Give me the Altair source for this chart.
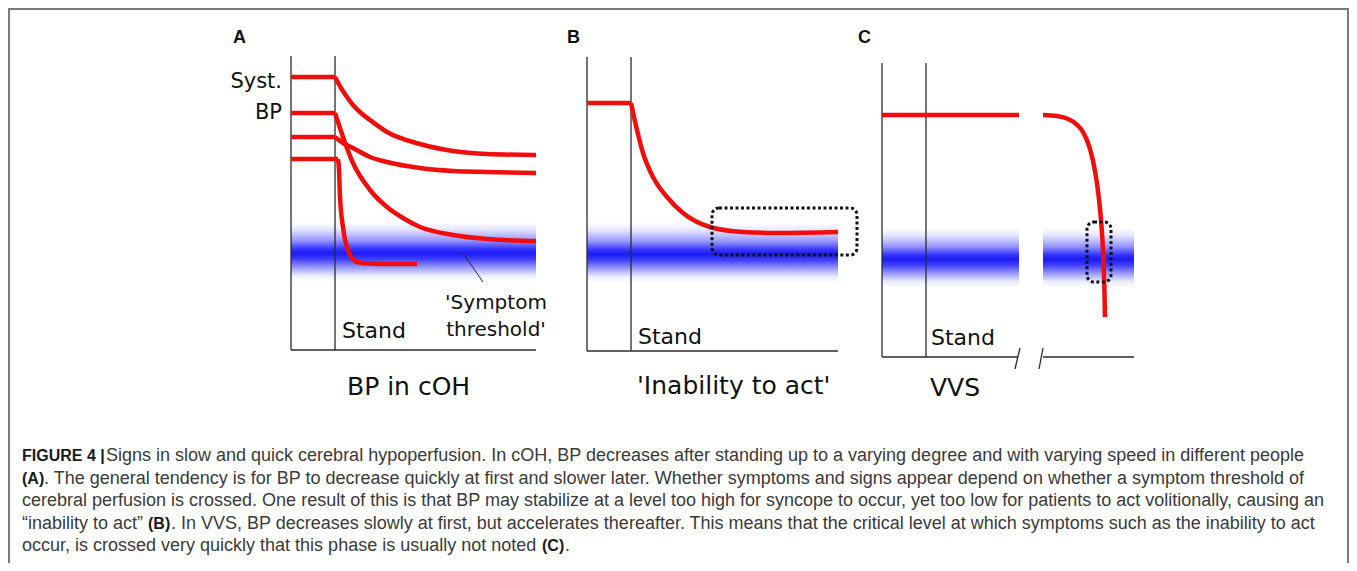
import altair as alt
import pandas as pd

# ---------------- data (arbitrary units: time after start, systolic BP) ----------------
# Panel A: BP in cOH – four people (baseline before standing, then course after standing)
A_BASE = [273, 237, 213, 191]
A_BASE_END = [44, 44, 44, 47]
A_T1 = [44, 50, 56, 62, 70, 79, 96, 129, 162, 196, 245]
A_BP1 = [273, 262, 253, 245, 237, 230, 218, 206, 199, 196, 195]
A_T2 = [44, 48, 52, 62, 79, 96, 112, 129, 162, 196, 245]
A_BP2 = [237, 225, 213, 187, 160, 143, 132, 123, 115, 111, 109]
A_T3 = [44, 52, 62, 79, 96, 129, 162, 196, 245]
A_BP3 = [213, 207, 202, 193, 188, 182, 179, 178, 177]
A_T4 = [47, 48, 49, 52, 57, 66, 79, 96, 126]
A_BP4 = [191, 180, 153, 123, 100, 88, 86.5, 86, 86]

# Panel B: 'Inability to act'
B_BASE = 248
B_T = [44, 50, 56, 66, 80, 96, 123, 156, 190, 251]
B_BP = [248, 221, 198, 174, 154, 138, 124, 119, 118, 119]

# Panel C: VVS (time axis broken)
C_T1 = [0, 137]
C_BP1 = [242, 242]
C_T2 = [161, 175, 185, 193, 199, 204, 208, 211, 214, 216.5, 218.5, 220, 221.3, 222.3, 223]
C_BP2 = [242, 241, 238.5, 234, 228, 219, 208, 196, 180, 162, 143, 124, 100, 72, 40]

STAND_T = 44
Y_TOP = 294
X_END = {"A": 245, "B": 251, "C": 252}
THRESH = {"A": 98, "B": 98, "C": 99}        # symptom threshold (centre of band)
THRESH_HALF = 30
BOX_B = [125, 270, 96, 143]                 # t0, t1, bp0, bp1
BOX_C = [205, 229, 75, 135]
C_GAP = [137, 161]                          # break of the time axis

CAPTION = [
    [("FIGURE 4 |", "bold"), ("Signs in slow and quick cerebral hypoperfusion. In cOH, BP decreases after standing up to a varying degree and with varying speed in different people", "normal")],
    [("(A)", "bold"), (". The general tendency is for BP to decrease quickly at first and slower later. Whether symptoms and signs appear depend on whether a symptom threshold of", "normal")],
    [("cerebral perfusion is crossed. One result of this is that BP may stabilize at a level too high for syncope to occur, yet too low for patients to act volitionally, causing an", "normal")],
    [("\u201cinability to act\u201d ", "normal"), ("(B)", "bold"), (". In VVS, BP decreases slowly at first, but accelerates thereafter. This means that the critical level at which symptoms such as the inability to act", "normal")],
    [("occur, is crossed very quickly that this phase is usually not noted ", "normal"), ("(C)", "bold"), (".", "normal")],
]
# left edges (px) of caption segments
CAPTION_X = [[14, 98], [14, 36], [14], [14, 140, 163], [14, 534, 557]]

# ---------------- styling / layout ----------------
RED = "#f20d0d"
INK = "#2b2b2b"
DIA_FONT = "DejaVu Sans"
CAP_FONT = "Liberation Sans"
CAP_BOLD_FONT = "Liberation Sans"
W, H = 1341, 555

PANELS = {
    "A": dict(xr=[283, 528], yr=[342, 48]),
    "B": dict(xr=[579, 830], yr=[343, 49]),
    "C": dict(xr=[874, 1126], yr=[349, 55]),
}


def X(p, field="t"):
    return alt.X(f"{field}:Q", axis=None,
                 scale=alt.Scale(domain=[0, X_END[p]], range=PANELS[p]["xr"], nice=False, zero=False))


def Y(p, field="bp"):
    return alt.Y(f"{field}:Q", axis=None,
                 scale=alt.Scale(domain=[0, Y_TOP], range=PANELS[p]["yr"], nice=False, zero=False))


def X2(field="t2"):
    return alt.X2(f"{field}:Q")


def Y2(field="bp2"):
    return alt.Y2(f"{field}:Q")


band_grad = alt.LinearGradient(
    gradient="linear", x1=0, x2=0, y1=0, y2=1,
    stops=[
        alt.GradientStop(color="#ffffff", offset=0.0),
        alt.GradientStop(color="#e6e6ff", offset=0.12),
        alt.GradientStop(color="#9a9aff", offset=0.3),
        alt.GradientStop(color="#3434ff", offset=0.45),
        alt.GradientStop(color="#1a1af2", offset=0.52),
        alt.GradientStop(color="#4040ff", offset=0.62),
        alt.GradientStop(color="#a8a8ff", offset=0.78),
        alt.GradientStop(color="#eeeeff", offset=0.9),
        alt.GradientStop(color="#ffffff", offset=1.0),
    ],
)

layers = []


def band(p, segments):
    c = THRESH[p]
    df = pd.DataFrame({"t": [s[0] for s in segments], "t2": [s[1] for s in segments],
                       "bp": [c - THRESH_HALF] * len(segments), "bp2": [c + THRESH_HALF] * len(segments)})
    return alt.Chart(df).mark_rect(color=band_grad).encode(x=X(p), x2=X2(), y=Y(p), y2=Y2())


def rules(p, rows, width=1.3, color=INK):
    df = pd.DataFrame(rows, columns=["t", "bp", "t2", "bp2"])
    return alt.Chart(df).mark_rule(color=color, strokeWidth=width).encode(x=X(p), y=Y(p), x2=X2(), y2=Y2())


def flats(p, rows):
    # baseline BP before standing: (t0, t1, bp)
    df = pd.DataFrame({"t": [r[0] for r in rows], "t2": [r[1] for r in rows],
                       "bp": [r[2] for r in rows], "bp2": [r[2] for r in rows]})
    return alt.Chart(df).mark_rule(color=RED, strokeWidth=4.5, strokeCap="butt").encode(
        x=X(p), y=Y(p), x2=X2(), y2=Y2())


def curves(p, series):
    frames = []
    for i, (ts, bps) in enumerate(series):
        frames.append(pd.DataFrame({"t": ts, "bp": bps, "s": f"{p}{i}", "o": range(len(ts))}))
    df = pd.concat(frames, ignore_index=True)
    return alt.Chart(df).mark_line(color=RED, strokeWidth=4.5, interpolate="monotone", strokeCap="butt",
                                   strokeJoin="round").encode(x=X(p), y=Y(p), detail="s:N", order="o:Q")


def box(p, b):
    df = pd.DataFrame({"t": [b[0]], "t2": [b[1]], "bp": [b[2]], "bp2": [b[3]]})
    return alt.Chart(df).mark_rect(fillOpacity=0, stroke="#111111", strokeWidth=3, strokeDash=[3, 2.5],
                                   cornerRadius=7).encode(x=X(p), x2=X2(), y=Y(p), y2=Y2())


def ptxt(p, s, t, bp, size, align="left", dx=0, baseline="middle"):
    df = pd.DataFrame({"t": [t], "bp": [bp], "s": [s]})
    return alt.Chart(df).mark_text(align=align, baseline=baseline, fontSize=size, font=DIA_FONT,
                                   color="#111111", dx=dx).encode(x=X(p), y=Y(p), text="s:N")


# ---- Panel A ----
layers.append(band("A", [(0, X_END["A"])]))
layers.append(rules("A", [(0, 0, 0, Y_TOP), (0, 0, X_END["A"], 0), (STAND_T, 0, STAND_T, Y_TOP)]))
layers.append(rules("A", [(172, 97, 192, 68)], width=1.0))
layers.append(flats("A", [(0, e, b) for b, e in zip(A_BASE, A_BASE_END)]))
layers.append(curves("A", [(A_T1, A_BP1), (A_T2, A_BP2), (A_T3, A_BP3), (A_T4, A_BP4)]))
layers.append(ptxt("A", "Syst.", 0, 268, 21, align="right", dx=-9))
layers.append(ptxt("A", "BP", 0, 237, 21, align="right", dx=-9))
layers.append(ptxt("A", "Stand", STAND_T, 19, 22, dx=7))
layers.append(ptxt("A", "'Symptom", 205, 47, 20, align="center"))
layers.append(ptxt("A", "threshold'", 205, 20, 20, align="center"))
layers.append(ptxt("A", "BP in cOH", STAND_T, -37, 25, dx=12))

# ---- Panel B ----
layers.append(band("B", [(0, X_END["B"])]))
layers.append(rules("B", [(0, 0, 0, Y_TOP), (0, 0, X_END["B"], 0), (STAND_T, 0, STAND_T, Y_TOP)]))
layers.append(flats("B", [(0, STAND_T, B_BASE)]))
layers.append(curves("B", [(B_T, B_BP)]))
layers.append(box("B", BOX_B))
layers.append(ptxt("B", "Stand", STAND_T, 14, 22, dx=7))
layers.append(ptxt("B", "'Inability to act'", STAND_T, -35, 25, dx=6))

# ---- Panel C ----
layers.append(band("C", [(0, C_GAP[0]), (C_GAP[1], X_END["C"])]))
layers.append(rules("C", [(0, 0, 0, Y_TOP), (0, 0, C_GAP[0] - 1, 0), (C_GAP[1], 0, X_END["C"], 0),
                          (STAND_T, 0, STAND_T, Y_TOP),
                          (C_GAP[0] - 4, -12, C_GAP[0] + 1, 9), (C_GAP[1] - 4, -12, C_GAP[1], 9)]))
layers.append(curves("C", [(C_T1, C_BP1), (C_T2, C_BP2)]))
layers.append(box("C", BOX_C))
layers.append(ptxt("C", "Stand", STAND_T, 19, 22, dx=5))
layers.append(ptxt("C", "VVS", STAND_T, -31, 25, dx=4))


# ---- panel letters, caption, frame ----
def vtxt(s, x, y, size, weight="normal", color=INK, font=CAP_FONT, baseline="alphabetic"):
    return alt.Chart(pd.DataFrame({"s": [s]})).mark_text(
        align="left", baseline=baseline, fontSize=size, fontWeight=weight, font=font, color=color
    ).encode(x=alt.value(x), y=alt.value(y), text="s:N")


for letter, lx in zip(["A", "B", "C"], [225, 559, 850]):
    layers.append(vtxt(letter, lx, 30, 18, weight="bold", color="#111111", font=CAP_BOLD_FONT,
                       baseline="middle"))

for i, (segs, xs) in enumerate(zip(CAPTION, CAPTION_X)):
    y = 453 + i * 22.5
    for (s, wgt), x in zip(segs, xs):
        if wgt == "bold":
            layers.append(vtxt(s, x, y, 16, weight="bold", color="#1a1a1a", font=CAP_BOLD_FONT))
        else:
            layers.append(vtxt(s, x, y, 18, color="#3a3a3a", font=CAP_FONT))

frame = [
    alt.Chart(pd.DataFrame({"k": [0]})).mark_rule(color="#7a7a7a", strokeWidth=2).encode(
        x=alt.value(1), y=alt.value(0), y2=alt.value(H)),
    alt.Chart(pd.DataFrame({"k": [0]})).mark_rule(color="#7a7a7a", strokeWidth=2).encode(
        x=alt.value(0), x2=alt.value(W), y=alt.value(1)),
    alt.Chart(pd.DataFrame({"k": [0]})).mark_rule(color="#7a7a7a", strokeWidth=2).encode(
        x=alt.value(W - 1), y=alt.value(0), y2=alt.value(H)),
]
layers.extend(frame)

chart = alt.layer(*layers).resolve_scale(x="independent", y="independent").properties(
    width=W, height=H, padding=0, autosize=alt.AutoSizeParams(type="none"),
    background="white",
).configure_view(stroke=None)

chart.save("out.html", embed_options={"renderer": "svg", "actions": False})
